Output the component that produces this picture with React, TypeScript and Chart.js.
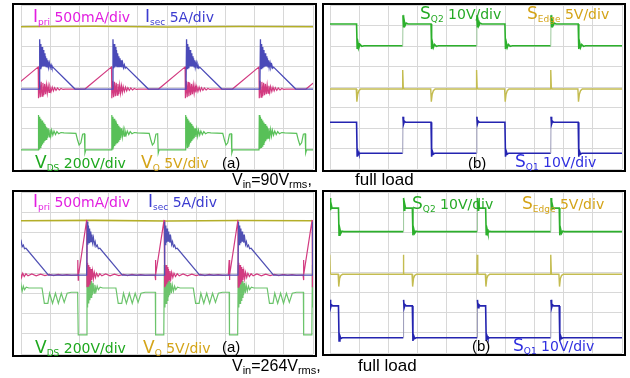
import React, { useEffect, useRef } from "react";
import { Chart, registerables } from "chart.js";

Chart.register(...registerables);

type P = [number, number];

// x: time in graticule divisions (0..10), y: vertical divisions (0..8)

// ---------- (a) Vin = 90 Vrms ----------
const a90CycleStarts = [-1.93, 0.59, 3.1, 5.62, 8.15, 10.67];
const a90Vo: P[] = [[0, 6.94], [2.5, 6.96], [5, 6.93], [7.5, 6.95], [10, 6.94]];
const a90IpriCycle: P[] = [
  [-0.91, 3.9], [0, 4.98], [0.01, 3.45], [0.04, 4.3], [0.07, 3.5], [0.1, 4.25], [0.13, 3.55],
  [0.16, 4.2], [0.19, 3.6], [0.22, 4.15], [0.25, 3.65], [0.28, 4.1], [0.31, 3.7], [0.34, 4.06],
  [0.37, 3.74], [0.4, 4.02], [0.44, 3.78], [0.48, 3.99], [0.52, 3.81], [0.56, 3.97], [0.61, 3.84],
  [0.66, 3.95], [0.72, 3.86], [0.78, 3.93], [0.85, 3.88], [0.92, 3.9],
];
const a90IsecCycle: P[] = [
  [0.03, 3.9], [0.05, 6.33], [0.07, 4.9], [0.09, 6.1], [0.11, 4.95], [0.13, 5.95], [0.15, 5.0],
  [0.17, 5.8], [0.19, 5.0], [0.21, 5.65], [0.23, 5.0], [0.25, 5.5], [0.27, 5.0], [0.29, 5.4],
  [0.31, 4.98], [0.33, 5.3], [0.35, 4.96], [0.38, 5.18], [0.41, 4.94], [0.44, 5.08], [0.47, 4.92],
  [0.5, 4.97], [1.26, 3.9],
];
const a90VdsCycle: P[] = [
  [0, 0.93], [0.01, 2.63], [0.03, 0.98], [0.05, 2.55], [0.07, 1.05], [0.09, 2.45], [0.11, 1.12],
  [0.13, 2.36], [0.15, 1.2], [0.17, 2.27], [0.19, 1.28], [0.21, 2.19], [0.23, 1.36], [0.25, 2.11],
  [0.27, 1.44], [0.29, 2.04], [0.31, 1.5], [0.34, 1.98], [0.37, 1.56], [0.4, 1.93], [0.43, 1.6],
  [0.46, 1.89], [0.5, 1.65], [0.54, 1.85], [0.59, 1.68], [0.64, 1.82], [0.7, 1.72], [0.78, 1.78],
  [0.88, 1.76], [1.29, 1.74], [1.35, 1.4], [1.4, 1.17], [1.46, 1.28], [1.52, 1.7], [1.58, 1.72],
  [1.6, 0.78], [1.63, 0.93],
];

// ---------- (b) Vin = 90 Vrms ----------
const b90Rises = [2.49, 5.02, 7.56];
const b90Falls = [0.91, 3.46, 5.99, 8.5];
const b90Sq2Rise: P[] = [[0, 6.01], [0.01, 7.5], [0.03, 6.9], [0.05, 7.25], [0.08, 7.0], [0.12, 7.12], [0.18, 7.07]];
const b90Sq2Fall: P[] = [[0, 7.07], [0.02, 5.85], [0.05, 6.15], [0.08, 5.92], [0.12, 6.07], [0.18, 5.98], [0.25, 6.01]];
const b90EdgeRise: P[] = [[-0.01, 3.9], [0, 4.83], [0.02, 3.95], [0.05, 3.9]];
const b90EdgeFall: P[] = [[-0.01, 3.9], [0.01, 3.28], [0.04, 3.65], [0.08, 3.82], [0.14, 3.9]];
const b90Sq1Rise: P[] = [[0, 0.77], [0.01, 2.55], [0.03, 2.2], [0.06, 2.33], [0.1, 2.28]];
const b90Sq1Fall: P[] = [[0, 2.28], [0.02, 0.6], [0.05, 0.85], [0.08, 0.72], [0.13, 0.77]];

// ---------- (a) Vin = 264 Vrms ----------
const a264CycleStarts = [-0.58, 1.95, 4.6, 7.13, 9.67];
const a264Vo: P[] = [[0, 6.58], [2.5, 6.6], [5, 6.57], [7.5, 6.59], [10, 6.58]];
const a264IpriCycle: P[] = [
  [-0.01, 3.9], [0, 4.64], [0.01, 3.65], [0.02, 3.9], [0.3, 6.62], [0.31, 3.3], [0.33, 4.5],
  [0.35, 3.35], [0.37, 4.4], [0.39, 3.45], [0.41, 4.3], [0.43, 3.55], [0.45, 4.2], [0.47, 3.65],
  [0.5, 4.1], [0.53, 3.72], [0.56, 4.03], [0.6, 3.78], [0.64, 3.99], [0.69, 3.83], [0.75, 3.96],
  [0.82, 3.86], [0.95, 3.95], [1.1, 3.86], [1.25, 3.94], [1.4, 3.87], [1.55, 3.93], [1.7, 3.87],
  [1.85, 3.93], [2.0, 3.88], [2.15, 3.92], [2.3, 3.88], [2.5, 3.9],
];
const a264IsecCycle: P[] = [
  [0.3, 3.9], [0.32, 6.53], [0.34, 5.4], [0.36, 6.35], [0.38, 5.5], [0.4, 6.2], [0.42, 5.55],
  [0.44, 6.05], [0.46, 5.55], [0.48, 5.9], [0.5, 5.5], [0.53, 5.75], [0.56, 5.4], [0.59, 5.55],
  [0.62, 5.3], [0.66, 5.38], [0.7, 5.2], [0.75, 5.22], [1.52, 3.9],
];
const a264VdsCycle: P[] = [
  [0, 3.05], [0.01, 0.94], [0.29, 0.94], [0.31, 4.4], [0.33, 2.3], [0.35, 4.1], [0.37, 2.5],
  [0.39, 3.9], [0.41, 2.65], [0.43, 3.75], [0.45, 2.8], [0.47, 3.6], [0.49, 2.9], [0.52, 3.5],
  [0.55, 3.0], [0.58, 3.42], [0.62, 3.1], [0.66, 3.35], [0.7, 3.18], [0.76, 3.3], [0.85, 3.26],
  [1.3, 3.26], [1.38, 2.5], [1.5, 2.5], [1.56, 3.0], [1.66, 2.5], [1.76, 3.0], [1.86, 2.5],
  [1.96, 3.0], [2.06, 2.55], [2.16, 3.0], [2.3, 3.05], [2.52, 3.05],
];

// ---------- (b) Vin = 264 Vrms ----------
const b264Rises = [-0.01, 2.51, 5.04, 7.56];
const b264Falls = [0.29, 2.82, 5.33, 7.85];
const b264Sq2Rise: P[] = [[0, 6.03], [0.01, 7.7], [0.03, 7.1], [0.05, 7.4], [0.08, 7.2]];
const b264Sq2Fall: P[] = [[0, 7.2], [0.02, 5.85], [0.05, 6.15], [0.08, 5.95], [0.12, 6.05], [0.18, 6.03]];
const b264EdgeRise: P[] = [[-0.01, 3.91], [0, 4.88], [0.02, 3.95], [0.05, 3.91]];
const b264EdgeFall: P[] = [[-0.01, 3.91], [0.01, 3.3], [0.04, 3.7], [0.08, 3.85], [0.14, 3.91]];
const b264Sq1Rise: P[] = [[0, 0.76], [0.01, 2.64], [0.03, 2.25], [0.06, 2.4], [0.1, 2.34]];
const b264Sq1Fall: P[] = [[0, 2.34], [0.02, 0.6], [0.05, 0.85], [0.08, 0.72], [0.13, 0.76]];

// ---------- helpers that place the read-off shapes at the read-off times ----------
function fromPairs(pts: P[]) {
  return pts.map(([x, y]) => ({ x, y }));
}
function repeatCycle(cycle: P[], starts: number[]) {
  return starts.flatMap((t) => cycle.map(([dx, y]) => ({ x: t + dx, y })));
}
function edges(rises: number[], falls: number[], rise: P[], fall: P[]) {
  const ev = [
    ...rises.map((t) => ({ t, s: rise })),
    ...falls.map((t) => ({ t, s: fall })),
  ].sort((a, b) => a.t - b.t);
  const pts: { x: number; y: number }[] = [];
  pts.push({ x: -0.5, y: ev[0].s[0][1] });
  ev.forEach((e) => e.s.forEach(([dx, y]) => pts.push({ x: e.t + dx, y })));
  const last = ev[ev.length - 1].s;
  pts.push({ x: 10.5, y: last[last.length - 1][1] });
  return pts;
}

// fast edges look faint on the scope screen
function ds(data: { x: number; y: number }[], color: string, width = 1.3, edgeColor?: string) {
  return {
    data,
    borderColor: color,
    borderWidth: width,
    pointRadius: 0,
    tension: 0,
    fill: false,
    clip: 0,
    segment: edgeColor
      ? {
          borderColor: (ctx: any) => {
            const dx = Math.abs(ctx.p1.parsed.x - ctx.p0.parsed.x);
            const dy = Math.abs(ctx.p1.parsed.y - ctx.p0.parsed.y);
            return dx < 0.015 && dy > 0.6 ? edgeColor : undefined;
          },
          borderWidth: (ctx: any) => {
            const dx = Math.abs(ctx.p1.parsed.x - ctx.p0.parsed.x);
            const dy = Math.abs(ctx.p1.parsed.y - ctx.p0.parsed.y);
            return dx < 0.015 && dy > 0.6 ? 1 : undefined;
          },
        }
      : undefined,
  };
}

const panelA90 = [
  ds(repeatCycle(a90IsecCycle, a90CycleStarts), "#4a4ab8", 1.3),
  ds(repeatCycle(a90IpriCycle, a90CycleStarts), "#d23a80", 1.2),
  ds(repeatCycle(a90VdsCycle, a90CycleStarts), "#58c058", 1.2),
  ds(fromPairs(a90Vo), "#b4ae28", 1.6),
];
const panelB90 = [
  ds(edges(b90Rises, b90Falls, b90Sq2Rise, b90Sq2Fall), "#2cb02c", 1.6, "#9cc89c"),
  ds(edges(b90Rises, b90Falls, b90EdgeRise, b90EdgeFall), "#c4bc50", 1.4),
  ds(edges(b90Rises, b90Falls, b90Sq1Rise, b90Sq1Fall), "#2424b0", 1.6, "#9a9ab8"),
];
const panelA264 = [
  ds(repeatCycle(a264IsecCycle, a264CycleStarts), "#5050b4", 1.2),
  ds(repeatCycle(a264IpriCycle, a264CycleStarts), "#d23a80", 1.2),
  ds(repeatCycle(a264VdsCycle, a264CycleStarts), "#6cc46c", 1.2),
  ds(fromPairs(a264Vo), "#b4ae28", 1.6),
];
const panelB264 = [
  ds(edges(b264Rises, b264Falls, b264Sq2Rise, b264Sq2Fall), "#2cb02c", 1.6, "#9cc89c"),
  ds(edges(b264Rises, b264Falls, b264EdgeRise, b264EdgeFall), "#c4bc50", 1.4),
  ds(edges(b264Rises, b264Falls, b264Sq1Rise, b264Sq1Fall), "#2424b0", 1.6, "#9a9ab8"),
];

type Box = { left: number; top: number; w: number; h: number; pad: { left: number; right: number; top: number; bottom: number } };

function ScopePanel({ box, datasets }: { box: Box; datasets: any[] }) {
  const ref = useRef<HTMLCanvasElement | null>(null);
  useEffect(() => {
    if (!ref.current) return;
    const grid = { color: "#d8d8d8", lineWidth: 1, drawTicks: false };
    const chart = new Chart(ref.current, {
      type: "line",
      data: { datasets },
      options: {
        animation: false,
        responsive: false,
        maintainAspectRatio: false,
        events: [],
        layout: { padding: box.pad },
        plugins: { legend: { display: false }, tooltip: { enabled: false }, title: { display: false } },
        scales: {
          x: { type: "linear", min: 0, max: 10, ticks: { display: false, stepSize: 1 }, grid, border: { display: false } },
          y: { type: "linear", min: 0, max: 8, ticks: { display: false, stepSize: 1 }, grid, border: { display: false } },
        },
      },
    } as any);
    return () => chart.destroy();
  }, []);
  return (
    <div
      style={{
        position: "absolute",
        left: box.left,
        top: box.top,
        width: box.w - 4,
        height: box.h - 4,
        border: "2px solid #000",
        background: "#fff",
      }}
    >
      <canvas ref={ref} width={box.w - 4} height={box.h - 4} style={{ display: "block" }} />
    </div>
  );
}

const boxTL: Box = { left: 12, top: 3, w: 305, h: 169, pad: { left: 7, right: 2, top: 0, bottom: 1 } };
const boxTR: Box = { left: 322, top: 3, w: 304, h: 169, pad: { left: 6, right: 2, top: 0, bottom: 1 } };
const boxBL: Box = { left: 12, top: 190, w: 305, h: 167, pad: { left: 7, right: 2, top: 0, bottom: 1 } };
const boxBR: Box = { left: 322, top: 190, w: 304, h: 166, pad: { left: 6, right: 2, top: 0, bottom: 1 } };

const C = {
  pri: "#e21ee0",
  sec: "#3c3cd0",
  vds: "#1ea81e",
  vo: "#d4a418",
  sq2: "#26aa26",
  edge: "#d4a418",
  sq1: "#3030e0",
};

function Lbl({ x, y, color, big, sub, rest }: { x: number; y: number; color: string; big: string; sub: string; rest: string }) {
  return (
    <div
      style={{
        position: "absolute",
        left: x,
        top: y,
        color,
        fontFamily: "'DejaVu Sans', sans-serif",
        fontSize: 14,
        lineHeight: "14px",
        whiteSpace: "nowrap",
      }}
    >
      <span style={{ fontSize: 17 }}>{big}</span>
      <span style={{ fontSize: 9, position: "relative", top: 3 }}>{sub}</span>
      <span> {rest}</span>
    </div>
  );
}

function Tag({ x, y, text }: { x: number; y: number; text: string }) {
  return (
    <div
      style={{
        position: "absolute",
        left: x,
        top: y,
        color: "#000",
        fontFamily: "'Liberation Sans', Arial, sans-serif",
        fontSize: 15,
        lineHeight: "15px",
        whiteSpace: "nowrap",
      }}
    >
      {text}
    </div>
  );
}

function Caption({ x, y, v, unit }: { x: number; y: number; v: string; unit: string }) {
  return (
    <div
      style={{
        position: "absolute",
        left: x,
        top: y,
        color: "#000",
        fontFamily: "'Liberation Sans', Arial, sans-serif",
        fontSize: 16,
        lineHeight: "16px",
        whiteSpace: "nowrap",
      }}
    >
      V<span style={{ fontSize: 11, position: "relative", top: 3 }}>in</span>={v}V
      <span style={{ fontSize: 11, position: "relative", top: 3 }}>{unit}</span>,
    </div>
  );
}

function Load({ x, y }: { x: number; y: number }) {
  return (
    <div
      style={{
        position: "absolute",
        left: x,
        top: y,
        color: "#000",
        fontFamily: "'Liberation Sans', Arial, sans-serif",
        fontSize: 17,
        lineHeight: "17px",
        whiteSpace: "nowrap",
      }}
    >
      full load
    </div>
  );
}

export default function App() {
  return (
    <div style={{ position: "absolute", left: 0, top: 0, width: 630, height: 378, background: "#fff", overflow: "hidden" }}>
      <ScopePanel box={boxTL} datasets={panelA90} />
      <ScopePanel box={boxTR} datasets={panelB90} />
      <ScopePanel box={boxBL} datasets={panelA264} />
      <ScopePanel box={boxBR} datasets={panelB264} />

      <Lbl x={33} y={9} color={C.pri} big="I" sub="pri" rest="500mA/div" />
      <Lbl x={145} y={9} color={C.sec} big="I" sub="sec" rest="5A/div" />
      <Lbl x={35} y={155} color={C.vds} big="V" sub="DS" rest="200V/div" />
      <Lbl x={141} y={155} color={C.vo} big="V" sub="O" rest="5V/div" />
      <Tag x={222} y={155} text="(a)" />

      <Lbl x={420} y={6} color={C.sq2} big="S" sub="Q2" rest="10V/div" />
      <Lbl x={527} y={6} color={C.edge} big="S" sub="Edge" rest="5V/div" />
      <Tag x={468} y={155} text="(b)" />
      <Lbl x={515} y={154} color={C.sq1} big="S" sub="Q1" rest="10V/div" />

      <Lbl x={33} y={194} color={C.pri} big="I" sub="pri" rest="500mA/div" />
      <Lbl x={148} y={194} color={C.sec} big="I" sub="sec" rest="5A/div" />
      <Lbl x={35} y={340} color={C.vds} big="V" sub="DS" rest="200V/div" />
      <Lbl x={143} y={340} color={C.vo} big="V" sub="O" rest="5V/div" />
      <Tag x={222} y={339} text="(a)" />

      <Lbl x={412} y={196} color={C.sq2} big="S" sub="Q2" rest="10V/div" />
      <Lbl x={522} y={196} color={C.edge} big="S" sub="Edge" rest="5V/div" />
      <Tag x={472} y={338} text="(b)" />
      <Lbl x={513} y={338} color={C.sq1} big="S" sub="Q1" rest="10V/div" />

      <Caption x={232} y={172} v="90" unit="rms" />
      <Load x={355} y={171} />
      <Caption x={232} y={358} v="264" unit="rms" />
      <Load x={358} y={357} />
    </div>
  );
}
